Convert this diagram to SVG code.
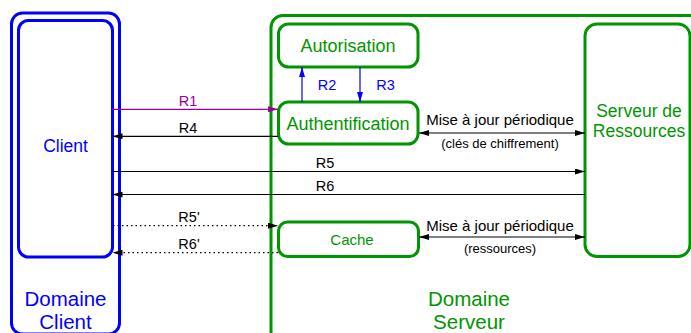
<svg xmlns="http://www.w3.org/2000/svg" width="691" height="333" viewBox="0 0 691 333">
<defs>
<style>
text{font-family:"Liberation Sans",Arial,sans-serif;}
.g{fill:none;stroke:#009600;stroke-width:3;}
.b{fill:none;stroke:#0000ff;stroke-width:3;}
.gt{fill:#009600;text-anchor:middle;}
.bt{fill:#0000ff;text-anchor:middle;}
.kt{fill:#000;text-anchor:middle;font-size:14px;}
.ln{stroke:#000;stroke-width:1.2;fill:none;}
.dot{stroke:#000;stroke-width:1.2;fill:none;stroke-dasharray:1.5 3;}
</style>
<marker id="ak" viewBox="0 0 10 6" refX="10" refY="3" markerWidth="10" markerHeight="6" markerUnits="userSpaceOnUse" orient="auto-start-reverse"><path d="M0,0 L10,3 L0,6 z" fill="#000"/></marker>
<marker id="ab" viewBox="0 0 10 6" refX="10" refY="3" markerWidth="10" markerHeight="6" markerUnits="userSpaceOnUse" orient="auto"><path d="M0,0 L10,3 L0,6 z" fill="#0000ff"/></marker>
<marker id="ap" viewBox="0 0 10 6" refX="10" refY="3" markerWidth="10" markerHeight="6" markerUnits="userSpaceOnUse" orient="auto"><path d="M0,0 L10,3 L0,6 z" fill="#990099"/></marker>
</defs>
<rect width="691" height="333" fill="#fff"/>

<g id="domaine-client">
<rect class="b" x="11.5" y="13" width="108" height="321" rx="11"/>
<text class="bt" x="65.5" y="306" font-size="20.5">Domaine</text>
<text class="bt" x="65.5" y="329" font-size="20.5">Client</text>
</g>
<g id="client">
<rect class="b" x="18.5" y="20.5" width="94" height="236.5" rx="10"/>
<text class="bt" x="65.5" y="152" font-size="17.5">Client</text>
</g>

<g id="domaine-serveur">
<rect class="g" x="271" y="15.5" width="440" height="330" rx="12"/>
<text class="gt" x="469" y="306" font-size="20.5">Domaine</text>
<text class="gt" x="469" y="329" font-size="20.5">Serveur</text>
</g>
<g id="autorisation">
<rect class="g" x="278.5" y="24" width="139.5" height="43" rx="10"/>
<text class="gt" x="348" y="51.5" font-size="18">Autorisation</text>
</g>
<g id="authentification">
<rect class="g" x="278.5" y="102" width="139.5" height="42" rx="10"/>
<text class="gt" x="348" y="129.5" font-size="18">Authentification</text>
</g>
<g id="cache">
<rect class="g" x="278.5" y="222" width="140" height="34.5" rx="9"/>
<text class="gt" x="352" y="245" font-size="15">Cache</text>
</g>
<g id="serveur-ressources">
<rect class="g" x="585" y="24" width="105" height="232.5" rx="12"/>
<text class="gt" x="639" y="117" font-size="17.5">Serveur de</text>
<text class="gt" x="639" y="137" font-size="17.5">Ressources</text>
</g>

<g id="connectors">
<line x1="112" y1="109.3" x2="278" y2="109.3" stroke="#990099" stroke-width="1.2" marker-end="url(#ap)"/>
<text x="188" y="106" font-size="14.5" fill="#990099" text-anchor="middle">R1</text>
<line class="ln" x1="278" y1="136.3" x2="112.5" y2="136.3" marker-end="url(#ak)"/>
<text class="kt" x="188" y="133" style="font-size:14.5px">R4</text>
<line class="ln" x1="112" y1="171.5" x2="585" y2="171.5" marker-end="url(#ak)"/>
<text class="kt" x="325" y="168" style="font-size:14.5px">R5</text>
<line class="ln" x1="585" y1="194.5" x2="112.5" y2="194.5" marker-end="url(#ak)"/>
<text class="kt" x="325" y="191" style="font-size:14.5px">R6</text>
<line class="dot" x1="113" y1="225.7" x2="278" y2="225.7" marker-end="url(#ak)"/>
<text class="kt" x="189" y="222" style="font-size:14.5px">R5'</text>
<line class="dot" x1="278" y1="252.7" x2="112.5" y2="252.7" marker-end="url(#ak)"/>
<text class="kt" x="189" y="249" style="font-size:14.5px">R6'</text>
<line x1="302" y1="102" x2="302" y2="67" stroke="#0000ff" stroke-width="1.2" marker-end="url(#ab)"/>
<text x="327" y="90" font-size="14.5" fill="#0000ff" text-anchor="middle">R2</text>
<line x1="360" y1="67" x2="360" y2="102" stroke="#0000ff" stroke-width="1.2" marker-end="url(#ab)"/>
<text x="385.5" y="90" font-size="14.5" fill="#0000ff" text-anchor="middle">R3</text>
<line class="ln" x1="419" y1="133" x2="585" y2="133" marker-start="url(#ak)" marker-end="url(#ak)"/>
<text class="kt" x="500" y="125" style="font-size:15px">Mise à jour périodique</text>
<text class="kt" x="500" y="148" style="font-size:13px">(clés de chiffrement)</text>
<line class="ln" x1="419" y1="237" x2="585" y2="237" marker-start="url(#ak)" marker-end="url(#ak)"/>
<text class="kt" x="500" y="230.5" style="font-size:15px">Mise à jour périodique</text>
<text class="kt" x="500" y="253" style="font-size:13px">(ressources)</text>
</g>
</svg>
